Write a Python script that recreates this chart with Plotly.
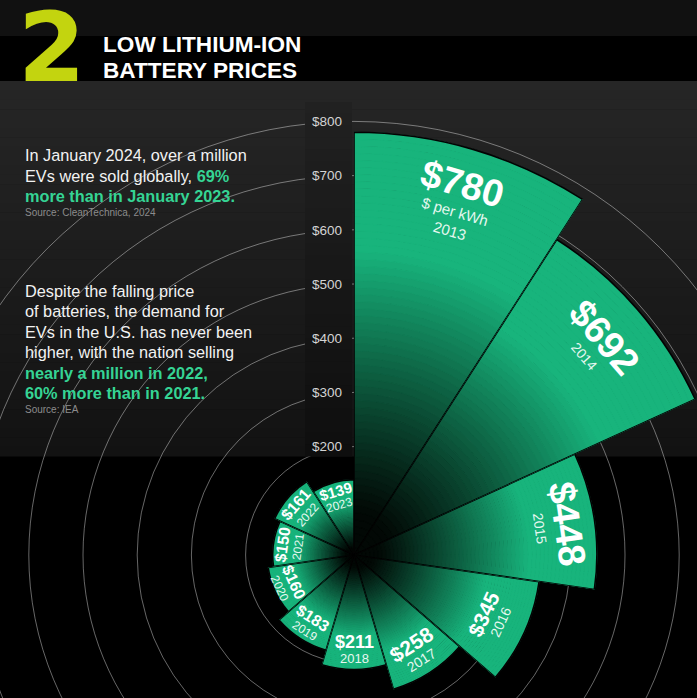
import math
import plotly.graph_objects as go

# ---------------- data ----------------
years = ["2013", "2014", "2015", "2016", "2017", "2018", "2019", "2020", "2021", "2022", "2023"]
prices = [780, 692, 448, 345, 258, 211, 183, 160, 150, 161, 139]
tick_values = [200, 300, 400, 500, 600, 700, 800]
tick_labels = ["$200", "$300", "$400", "$500", "$600", "$700", "$800"]
grid_values = [200, 300, 400, 500, 600, 700, 800]

# ---------------- geometry / style ----------------
W, H = 697, 698
CX, CY = 354, 555          # pixel centre of the radial chart
K = 0.542                  # pixels per dollar

GREEN = (24, 180, 124)
DARK = (2, 8, 5)
MINT = "#35d494"
FONT = "Liberation Sans"

val_fs = [38, 38, 38, 21, 21, 18, 16, 16, 16, 16, 15]
year_fs = [15, 14, 14, 14, 14, 13, 12, 12, 12, 12, 12]


def px_x(x):
    return x / W


def px_y(y):
    return 1 - y / H


def dx(xp):          # pixel x -> overlay data units
    return (xp - CX) / K


def dy(yp):          # pixel y -> overlay data units
    return (CY - yp) / K


def band_color(t):
    s = min(max((t - 0.1) / 0.62, 0.0), 1.0) ** 1.1
    c = [round(DARK[i] + (GREEN[i] - DARK[i]) * s) for i in range(3)]
    return f"rgb({c[0]},{c[1]},{c[2]})"


def gray(v):
    v = int(round(v))
    return f"rgb({v},{v},{v})"


def bg_gray(yp):
    return 38 - 20 * (yp - 81) / (456 - 81)


def sector_bbox(s0, s1):
    xs, ys = [0.0], [0.0]
    for a in (s0, s1):
        xs.append(math.cos(math.radians(a)))
        ys.append(math.sin(math.radians(a)))
    for c in range(-720, 721, 90):
        if s0 <= c <= s1:
            xs.append(math.cos(math.radians(c)))
            ys.append(math.sin(math.radians(c)))
    return min(xs), min(ys), max(xs), max(ys)


n = len(prices)
step = 360 / n
theta = [(i + 0.5) * step for i in range(n)]

fig = go.Figure()
# empty cartesian trace so the overlay axes exist
fig.add_trace(go.Scatter(x=[], y=[], xaxis="x", yaxis="y", showlegend=False, hoverinfo="skip"))

NB = 60
layout_polars = {}
for i, v in enumerate(prices):
    pid = "polar" if i == 0 else f"polar{i + 1}"
    a, b = i * step, (i + 1) * step
    s0, s1 = 90 - b, 90 - a
    x0, y0, x1, y1 = sector_bbox(s0, s1)
    lims = []
    if x1 > 1e-9:
        lims.append((W - CX) / x1)
    if x0 < -1e-9:
        lims.append(CX / -x0)
    if y1 > 1e-9:
        lims.append(CY / y1)
    if y0 < -1e-9:
        lims.append((H - CY) / -y0)
    R = min([v * K + 2] + [l - 0.05 for l in lims])
    layout_polars[pid] = dict(
        domain=dict(x=[max(0, (CX + R * x0) / W), min(1, (CX + R * x1) / W)],
                    y=[max(0, (H - CY + R * y0) / H), min(1, (H - CY + R * y1) / H)]),
        sector=[s0, s1],
        bgcolor="rgba(0,0,0,0)",
        radialaxis=dict(range=[0, R / K], visible=False, autorange=False),
        angularaxis=dict(rotation=90, direction="clockwise", visible=False),
        barmode="overlay",
    )
    cols = [band_color((j + 0.5) / NB) for j in range(NB)]
    fig.add_trace(go.Barpolar(
        r=[v / NB] * NB, base=[v * j / NB for j in range(NB)],
        theta=[theta[i]] * NB, width=[step] * NB,
        marker=dict(color=cols, line=dict(color=cols, width=1.0)),
        hoverinfo="skip", showlegend=False, subplot=pid))
    fig.add_trace(go.Barpolar(
        r=[v], theta=[theta[i]], width=[step],
        marker=dict(color="rgba(0,0,0,0)", line=dict(color="#030303", width=1.6)),
        hoverinfo="skip", showlegend=False, subplot=pid))

# ---------------- background shapes ----------------
shapes = []
shapes.append(dict(type="rect", xref="paper", yref="paper", x0=0, x1=1,
                   y0=px_y(36), y1=1, fillcolor="#111111", line_width=0, layer="below"))
top, bot = 81, 456
NS = 40
for i in range(NS):
    y0 = top + (bot - top) * i / NS
    y1 = top + (bot - top) * (i + 1) / NS
    shapes.append(dict(type="rect", xref="paper", yref="paper", x0=0, x1=1,
                       y0=px_y(y1 + 0.5), y1=px_y(y0), fillcolor=gray(bg_gray((y0 + y1) / 2)),
                       line_width=0, layer="below"))
# grid circles in the overlay (data units = dollars)
for v in grid_values:
    shapes.append(dict(type="circle", xref="x", yref="y", x0=-v, x1=v, y0=-v, y1=v,
                       line=dict(color="rgba(255,255,255,0.40)", width=1),
                       fillcolor="rgba(0,0,0,0)", layer="below"))
# tick-label strip (covers the circles)
SS = 30
for i in range(SS):
    y0 = 102 + (bot - 102) * i / SS
    y1 = 102 + (bot - 102) * (i + 1) / SS
    shapes.append(dict(type="rect", xref="x", yref="y", x0=dx(305), x1=dx(352),
                       y0=dy(y1 + 0.5), y1=dy(y0), fillcolor=gray(bg_gray((y0 + y1) / 2) - 4),
                       line_width=0, layer="below"))

# ---------------- annotations ----------------
ann = []
ann.append(dict(text="2", x=px_x(52), y=px_y(46.5), xref="paper", yref="paper",
                showarrow=False, xanchor="center", yanchor="middle", height=80, valign="middle",
                font=dict(family="DejaVu Sans", size=97, color="#c3d40f", weight="bold")))
for txt, yc in [("LOW LITHIUM-ION", 44.5), ("BATTERY PRICES", 70.5)]:
    ann.append(dict(text=f"<b>{txt}</b>", x=px_x(101), y=px_y(yc), xref="paper", yref="paper",
                    showarrow=False, xanchor="left", yanchor="middle",
                    font=dict(family=FONT, size=22.6, color="white")))

g = f"<span style='color:{MINT}'><b>"
ge = "</b></span>"
left_lines = [
    ("In January 2024, over a million", 155.5),
    (f"EVs were sold globally, {g}69%{ge}", 176),
    (f"{g}more than in January 2023.{ge}", 196.5),
    ("Despite the falling price", 291),
    ("of batteries, the demand for", 311),
    ("EVs in the U.S. has never been", 331.5),
    ("higher, with the nation selling", 352),
    (f"{g}nearly a million in 2022,{ge}", 372.5),
    (f"{g}60% more than in 2021.{ge}", 393),
]
for txt, yc in left_lines:
    ann.append(dict(text=txt, x=px_x(23), y=px_y(yc), xref="paper", yref="paper",
                    showarrow=False, xanchor="left", yanchor="middle",
                    font=dict(family=FONT, size=16.3, color="#f2f2f2")))
for txt, yc in [("Source: CleanTechnica, 2024", 212.5), ("Source: IEA", 409)]:
    ann.append(dict(text=txt, x=px_x(23), y=px_y(yc), xref="paper", yref="paper",
                    showarrow=False, xanchor="left", yanchor="middle",
                    font=dict(family=FONT, size=10, color="#8c8c8c")))

# bar labels (positioned in the cartesian overlay, which shares the polar scale)
for i, (yr, v) in enumerate(zip(years, prices)):
    th = theta[i]
    flipped = 90 < th < 270
    ang = th - 180 if flipped else (th if th <= 90 else th - 360)
    vf, yf = val_fs[i], year_fs[i]
    gap = (0.5 * vf + 0.5 * yf + 1.5) / K
    if flipped:
        r_val = 0.76 * v
        r_year = r_val + gap
    else:
        r_val = 0.885 * v
        if i == 0:                      # three-line label: shift block outward
            r_val += (yf * 1.35 * 0.6) / K
        r_year = r_val - gap
    rad = math.radians(th)
    ann.append(dict(text=f"<b>${v}</b>", x=r_val * math.sin(rad), y=r_val * math.cos(rad),
                    xref="x", yref="y", showarrow=False, textangle=ang,
                    xanchor="center", yanchor="middle",
                    font=dict(family=FONT, size=vf, color="white")))
    if i == 0:
        r_sub = r_year
        ann.append(dict(text="$ per kWh", x=r_sub * math.sin(rad), y=r_sub * math.cos(rad),
                        xref="x", yref="y", showarrow=False, textangle=ang,
                        xanchor="center", yanchor="middle",
                        font=dict(family=FONT, size=yf, color="#e6f8f0")))
        r_year = r_sub - (yf * 1.35) / K
    ann.append(dict(text=yr, x=r_year * math.sin(rad), y=r_year * math.cos(rad),
                    xref="x", yref="y", showarrow=False, textangle=ang,
                    xanchor="center", yanchor="middle",
                    font=dict(family=FONT, size=yf, color="#e6f8f0")))

fig.update_layout(
    width=W, height=H, autosize=False,
    margin=dict(l=0, r=0, t=0, b=0, pad=0),
    paper_bgcolor="#000000", plot_bgcolor="rgba(0,0,0,0)",
    showlegend=False,
    shapes=shapes, annotations=ann,
    xaxis=dict(domain=[0, 1], range=[-CX / K, (W - CX) / K], visible=False, fixedrange=True),
    yaxis=dict(domain=[0, 1], range=[-(H - CY) / K, CY / K], anchor="free", position=342 / W,
               tickvals=tick_values, ticktext=tick_labels, showgrid=False, zeroline=False,
               showline=False, ticks="", tickfont=dict(family=FONT, size=13.5, color="#d4d4d4"),
               fixedrange=True),
    **layout_polars,
)

fig.write_html("out.html", config={"displayModeBar": False, "staticPlot": True},
               post_script="document.body.style.margin='0';document.body.style.background='#000';")
